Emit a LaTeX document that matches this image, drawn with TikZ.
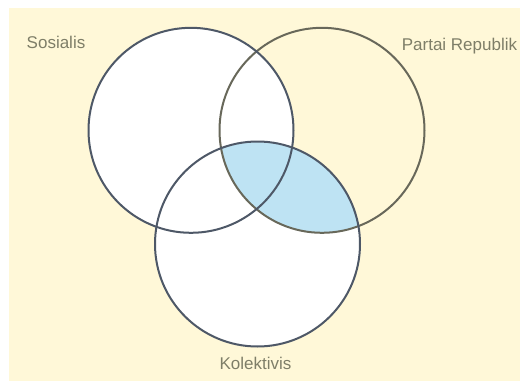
\documentclass[tikz,border=0pt]{standalone}
\usepackage{fontspec}
\setmainfont{Liberation Sans}
\usepackage{xcolor}
\usepackage{tikz}
\usetikzlibrary{positioning, backgrounds}
\definecolor{kertas}{HTML}{FFF8D8}
\definecolor{garisbiru}{HTML}{4E5867}
\definecolor{gariszaitun}{HTML}{68685A}
\definecolor{irisan}{HTML}{BEE3F3}
\definecolor{teks}{HTML}{7E7E68}
\newcommand{\jari}{102.5}

\begin{document}
\begin{tikzpicture}[
  x=1pt, y=-1pt,
  venn/.style={circle, minimum size=205pt, inner sep=0pt},
  tepi/.style={line width=2pt},
  lbl/.style={font=\fontsize{17}{19}\selectfont, text=teks, inner sep=0pt}
]
  \useasboundingbox (0,0) rectangle (520,381);
  \fill[kertas] (9,8) rectangle (520,381);

  \node[venn, fill=white] (sos) at (191,130.3) {};
  \node[venn] (rep) at (322,130.3) {};
  \node[venn, fill=white] (kol) at (257.5,244) {};

  % daerah Partai Republik dan Kolektivis
  \begin{scope}
    \clip (rep.center) circle (\jari);
    \fill[irisan] (kol.center) circle (\jari);
  \end{scope}

  \draw[tepi, gariszaitun] (rep.center) circle (\jari);
  \draw[tepi, garisbiru] (sos.center) circle (\jari);
  \draw[tepi, garisbiru] (kol.center) circle (\jari);

  \node[lbl] (lsos) at (56,42) {Sosialis};
  \node[lbl] (lrep) at (459.5,46) {Partai Republik};
  \node[lbl] (lkol) at (255.5,363) {Kolektivis};
\end{tikzpicture}
\end{document}
